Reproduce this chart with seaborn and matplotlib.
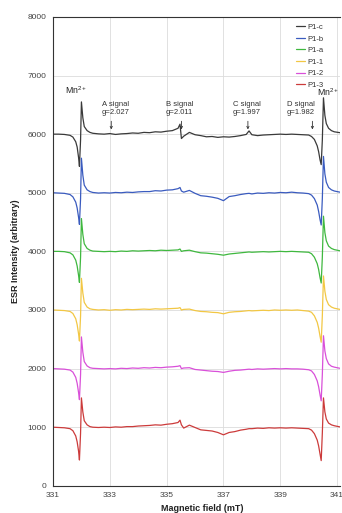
import matplotlib
matplotlib.use("Agg")
import matplotlib.pyplot as plt
import seaborn as sns
from matplotlib.ticker import MultipleLocator

# magnetic field (mT) and ESR intensity
field = [331.0, 331.2, 331.4, 331.6, 331.7, 331.8, 331.85, 331.9, 331.93, 331.97,
         332.0, 332.05, 332.1, 332.2, 332.3, 332.4, 332.6, 332.8, 333.0, 333.2,
         333.4, 333.6, 333.8, 334.0, 334.2, 334.4, 334.6, 334.8, 335.0, 335.2,
         335.4, 335.47, 335.52, 335.6, 335.8, 336.0, 336.2, 336.4, 336.6, 336.8,
         337.0, 337.2, 337.4, 337.6, 337.8, 337.9, 338.0, 338.2, 338.4, 338.6,
         338.8, 339.0, 339.2, 339.4, 339.6, 339.8, 340.0, 340.1, 340.2, 340.3,
         340.35, 340.4, 340.44, 340.48, 340.52, 340.57, 340.62, 340.7, 340.8, 340.9,
         341.1]

p1_c = [6000, 6000, 5995, 5980, 5950, 5870, 5780, 5600, 5450, 5900,
        6550, 6280, 6130, 6060, 6030, 6015, 6005, 6000, 6010, 5995,
        6005, 6010, 6020, 6015, 6030, 6025, 6040, 6035, 6050, 6060,
        6100, 6170, 5925, 5965, 6030, 5990, 5975, 5955, 5960, 5945,
        5955, 5950, 5960, 5975, 5995, 6055, 5990, 5975, 5985, 5990,
        5995, 6000, 5995, 6000, 5995, 5990, 5985, 5960, 5910, 5800,
        5700, 5560, 5480, 5900, 6620, 6320, 6180, 6100, 6060, 6040,
        6025]

p1_b = [5000, 4995, 4990, 4970, 4930, 4840, 4740, 4580, 4460, 4900,
        5590, 5300, 5130, 5050, 5020, 5005, 4995, 5000, 4995, 5005,
        5000, 5010, 5005, 5015, 5020, 5020, 5035, 5030, 5045, 5050,
        5070, 5090, 5030, 5010, 5040, 4990, 4950, 4940, 4925, 4905,
        4865, 4935, 4950, 4970, 4985, 4990, 4980, 4995, 4990, 5000,
        4995, 5005, 5000, 5010, 5000, 4995, 4985, 4960, 4900, 4790,
        4680, 4540, 4450, 4900, 5620, 5320, 5180, 5090, 5050, 5030,
        5010]

p1_a = [4000, 4000, 3995, 3975, 3940, 3850, 3750, 3590, 3470, 3900,
        4560, 4290, 4130, 4050, 4020, 4005, 4000, 3995, 4000, 3995,
        4005, 4000, 4010, 4005, 4010, 4015, 4010, 4020, 4015, 4020,
        4025, 4040, 4000, 4010, 4020, 3995, 3975, 3970, 3960, 3950,
        3935, 3955, 3965, 3975, 3985, 3990, 3985, 3990, 3995, 3990,
        3995, 4000, 3995, 4000, 3995, 3990, 3985, 3960, 3900, 3790,
        3690, 3550, 3460, 3900, 4600, 4320, 4180, 4090, 4050, 4030,
        4010]

p1_1 = [3000, 2995, 2990, 2975, 2940, 2850, 2750, 2590, 2470, 2900,
        3540, 3290, 3130, 3050, 3020, 3010, 3000, 3005, 2995, 3005,
        3000, 3010, 3005, 3010, 3015, 3010, 3020, 3015, 3020, 3025,
        3030, 3040, 3000, 3010, 3015, 2990, 2975, 2970, 2960, 2955,
        2935, 2960, 2970, 2975, 2985, 2990, 2985, 2990, 2995, 2990,
        3000, 2995, 3000, 2995, 3000, 2990, 2980, 2960, 2900, 2790,
        2690, 2550, 2450, 2900, 3580, 3320, 3180, 3090, 3050, 3030,
        3010]

p1_2 = [2000, 1995, 1990, 1975, 1940, 1850, 1750, 1590, 1470, 1900,
        2540, 2280, 2120, 2045, 2015, 2005, 2000, 1995, 2000, 1995,
        2005, 2000, 2010, 2005, 2015, 2010, 2020, 2015, 2025, 2030,
        2040, 2050, 2000, 2010, 2015, 1985, 1975, 1965, 1955, 1950,
        1935, 1955, 1970, 1975, 1985, 1990, 1985, 1995, 1990, 1995,
        2000, 1995, 2000, 1995, 1995, 1990, 1980, 1960, 1900, 1790,
        1690, 1550, 1450, 1900, 2560, 2300, 2170, 2080, 2040, 2025,
        2005]

p1_3 = [1000, 995, 990, 975, 940, 850, 750, 590, 440, 900,
        1500, 1260, 1110, 1040, 1010, 1000, 995, 1000, 995, 1005,
        1000, 1010, 1010, 1020, 1025, 1030, 1040, 1035, 1050, 1060,
        1080, 1120, 1040, 985, 1035, 995, 955, 945, 935, 910,
        870, 910, 925, 950, 965, 975, 975, 985, 980, 990,
        985, 990, 985, 990, 985, 980, 975, 950, 890, 780,
        680, 540, 430, 900, 1500, 1260, 1140, 1070, 1040, 1025,
        1005]

labels = ["P1-c", "P1-b", "P1-a", "P1-1", "P1-2", "P1-3"]
colors = ["#3a3a3a", "#3a5bbf", "#3fb83f", "#f2c744", "#d950d9", "#cc3b3b"]
series = [p1_c, p1_b, p1_a, p1_1, p1_2, p1_3]

# signal annotations: name, g value, field position of the arrow
sig_names = ["A signal", "B signal", "C signal", "D signal"]
sig_g = ["g=2.027", "g=2.011", "g=1.997", "g=1.982"]
sig_text_x = [333.2, 335.46, 337.83, 339.73]
sig_arrow_x = [333.05, 335.52, 337.86, 340.13]

sns.set_style("whitegrid")
plt.rcParams["font.family"] = ["Liberation Sans", "DejaVu Sans"]
plt.rcParams["mathtext.fontset"] = "custom"
plt.rcParams["mathtext.rm"] = "Liberation Sans"
plt.rcParams["mathtext.default"] = "regular"

fig = plt.figure(figsize=(3.42, 5.13), dpi=100)
ax = fig.add_axes([0.155, 0.053, 0.839, 0.914])

for vals, lab, col in zip(series, labels, colors):
    sns.lineplot(x=field, y=vals, color=col, label=lab, lw=0.9, ax=ax)

ax.set_xlim(331, 341.1)
ax.set_ylim(0, 8000)
ax.xaxis.set_major_locator(MultipleLocator(2, offset=1))
ax.xaxis.set_minor_locator(MultipleLocator(0.5))
ax.yaxis.set_major_locator(MultipleLocator(1000))
ax.yaxis.set_minor_locator(MultipleLocator(200))
ax.grid(True, which="major", color="#dcdcdc", lw=0.6)
ax.grid(False, which="minor")
ax.tick_params(which="major", direction="in", length=2.5, width=0.6,
               labelsize=6, colors="#444444", pad=4.5)
ax.tick_params(which="minor", direction="in", length=1.5, width=0.5, colors="#444444")
for side in ["left", "bottom", "top"]:
    ax.spines[side].set_color("#333333")
    ax.spines[side].set_linewidth(0.8)
ax.spines["right"].set_visible(False)

ax.set_xlabel("Magnetic field (mT)", fontsize=6.5, fontweight="bold", color="#222222")
ax.set_ylabel("ESR Intensity (arbitrary)", fontsize=6.5, fontweight="bold", color="#222222")
ax.xaxis.set_label_coords(0.52, -0.038)
ax.yaxis.set_label_coords(-0.115, 0.5)

# Mn2+ labels
ax.text(331.8, 6680, "Mn$^{2+}$", fontsize=6.3, ha="center", va="baseline", color="#222222")
ax.text(340.3, 6650, "Mn$^{2+}$", fontsize=6.3, ha="left", va="baseline", color="#222222")

for name, g, tx, axx in zip(sig_names, sig_g, sig_text_x, sig_arrow_x):
    ax.text(tx, 6310, name + "\n" + g, fontsize=5.5, ha="center", va="bottom",
            color="#333333", linespacing=1.15)
    ax.annotate("", xy=(axx, 6080), xytext=(axx, 6220),
                arrowprops=dict(arrowstyle="->", lw=0.6, color="#333333",
                                mutation_scale=4, shrinkA=0, shrinkB=0))

leg = ax.legend(loc="upper right", bbox_to_anchor=(0.96, 0.997), frameon=False,
                fontsize=5.5, handlelength=1.2, handletextpad=0.2,
                labelspacing=0.55, borderpad=0.2)
for t in leg.get_texts():
    t.set_color("#333333")

fig.savefig("out.png", dpi=100)
